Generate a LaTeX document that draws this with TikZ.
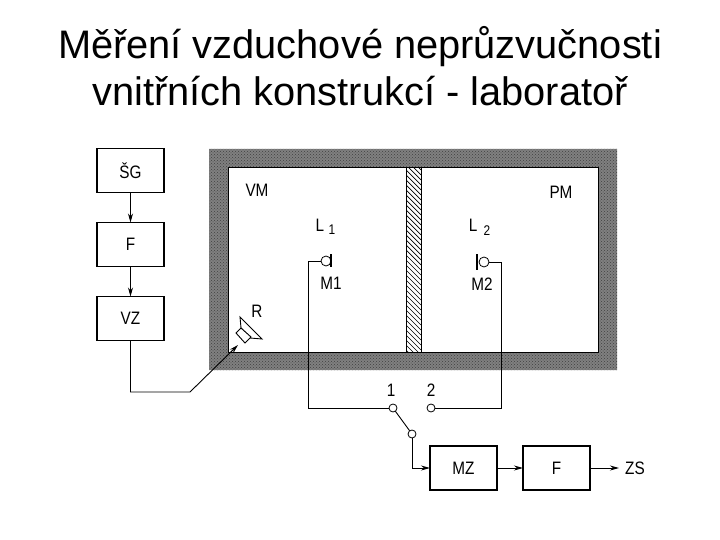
\documentclass[tikz,border=0pt]{standalone}
\usepackage{fontspec}
\setmainfont{Liberation Sans}
\newfontfamily\labelfont[FakeStretch=0.85]{Liberation Sans}
\usetikzlibrary{arrows.meta,positioning,patterns}
\tikzset{
 boxnode/.style={draw,line width=1.1pt,minimum width=67pt,minimum height=44pt,inner sep=0pt,outer sep=0pt,font=\labelfont\fontsize{18}{18}\selectfont},
 label/.style={inner sep=0pt,font=\labelfont\fontsize{18}{18}\selectfont},
 portnode/.style={draw,circle,fill=white,line width=.8pt,minimum size=8pt,inner sep=0pt,outer sep=0pt},
 wire/.style={line width=.9pt}
}
\begin{document}
\begin{tikzpicture}[x=1pt,y=-1pt,>={Stealth[length=9pt,width=5pt]},node distance=30pt and 26pt]
\useasboundingbox (0,0) rectangle (720,540);
\node[font=\fontsize{39.8}{47}\selectfont,align=center] (title) at (360,66) {Měření vzduchové neprůzvučnosti\\vnitřních konstrukcí - laboratoř};
% walls and partition
\fill[black!50,even odd rule] (209,149) rectangle (617,370) (228,168) rectangle (598,352);
\fill[pattern=crosshatch dots,pattern color=black!75,even odd rule] (209,149) rectangle (617,370) (228,168) rectangle (598,352);
\draw[line width=1pt] (228,168) rectangle (598,352);
\fill[white] (406,168) rectangle (421,352);
\begin{scope}
\clip (406,168) rectangle (421,352);
\foreach \y in {150,155,...,350} \draw[line width=.7pt] (406,\y)--(421,\y+15);
\end{scope}
\draw[line width=.6pt] (406,168) -- (406,352) (421,168) -- (421,352);
% source chain
\node[boxnode] (sg) at (130.5,170.5) {ŠG};
\node[boxnode,below=of sg] (filter) {F};
\node[boxnode,below=of filter] (vz) {VZ};
\draw[wire,->] (sg)--(filter);
\draw[wire,->] (filter)--(vz);
% receiving chain
\node[boxnode] (mz) at (463.5,468) {MZ};
\node[boxnode,right=of mz] (filterb) {F};
\node[label,right=35pt of filterb] (zs) {ZS};
\draw[wire,->] (mz)--(filterb);
\draw[wire,->,shorten >=6pt] (filterb)--(zs);
% room labels
\node[label] (vm) at (257,190) {VM};
\node[label] (pm) at (561,192) {PM};
\node[label] (l1) at (320,225) {L};
\node[label,font=\labelfont\fontsize{14}{14}\selectfont] (l1i) at (332,230) {1};
\node[label] (l2) at (473,225) {L};
\node[label,font=\labelfont\fontsize{14}{14}\selectfont] (l2i) at (487,231) {2};
\node[label] (m1) at (331,283) {M1};
\node[label] (m2) at (482,284) {M2};
\node[label] (r) at (257,311) {R};
% speaker
\coordinate (spk) at (238,345);
\draw[line width=.9pt,fill=white] (241,328) -- (240,317) -- (262,339) -- (250,338) -- cycle;
\draw[line width=.9pt,fill=white] (236,333) -- (241,328) -- (251,337) -- (245,343) -- cycle;
% microphones
\node[portnode,minimum size=10pt] (mica) at (326,261) {};
\node[portnode,minimum size=10pt] (micb) at (484,262) {};
\draw[line width=1.1pt] (331,254) -- (331,267);
\draw[line width=1.1pt] (477,254) -- (477,270);
% switch
\node[label] (one) at (391,390) {1};
\node[label] (two) at (431,390) {2};
\node[portnode] (swa) at (393,408) {};
\node[portnode] (swb) at (431,408) {};
\node[portnode] (swc) at (412,434) {};
\draw[wire] (swa)--(swc);
% wires
\coordinate (bendvz) at (190,392);
\draw[wire,->] (vz.south) |- (bendvz) -- (spk);
\draw[wire] (mica.west) -- (308,261) -- (308,408) -- (swa.west);
\draw[wire] (micb.east) -- (501,262) -- (501,408) -- (swb.east);
\draw[wire,->] (swc.south) |- (mz.west);
\end{tikzpicture}
\end{document}
